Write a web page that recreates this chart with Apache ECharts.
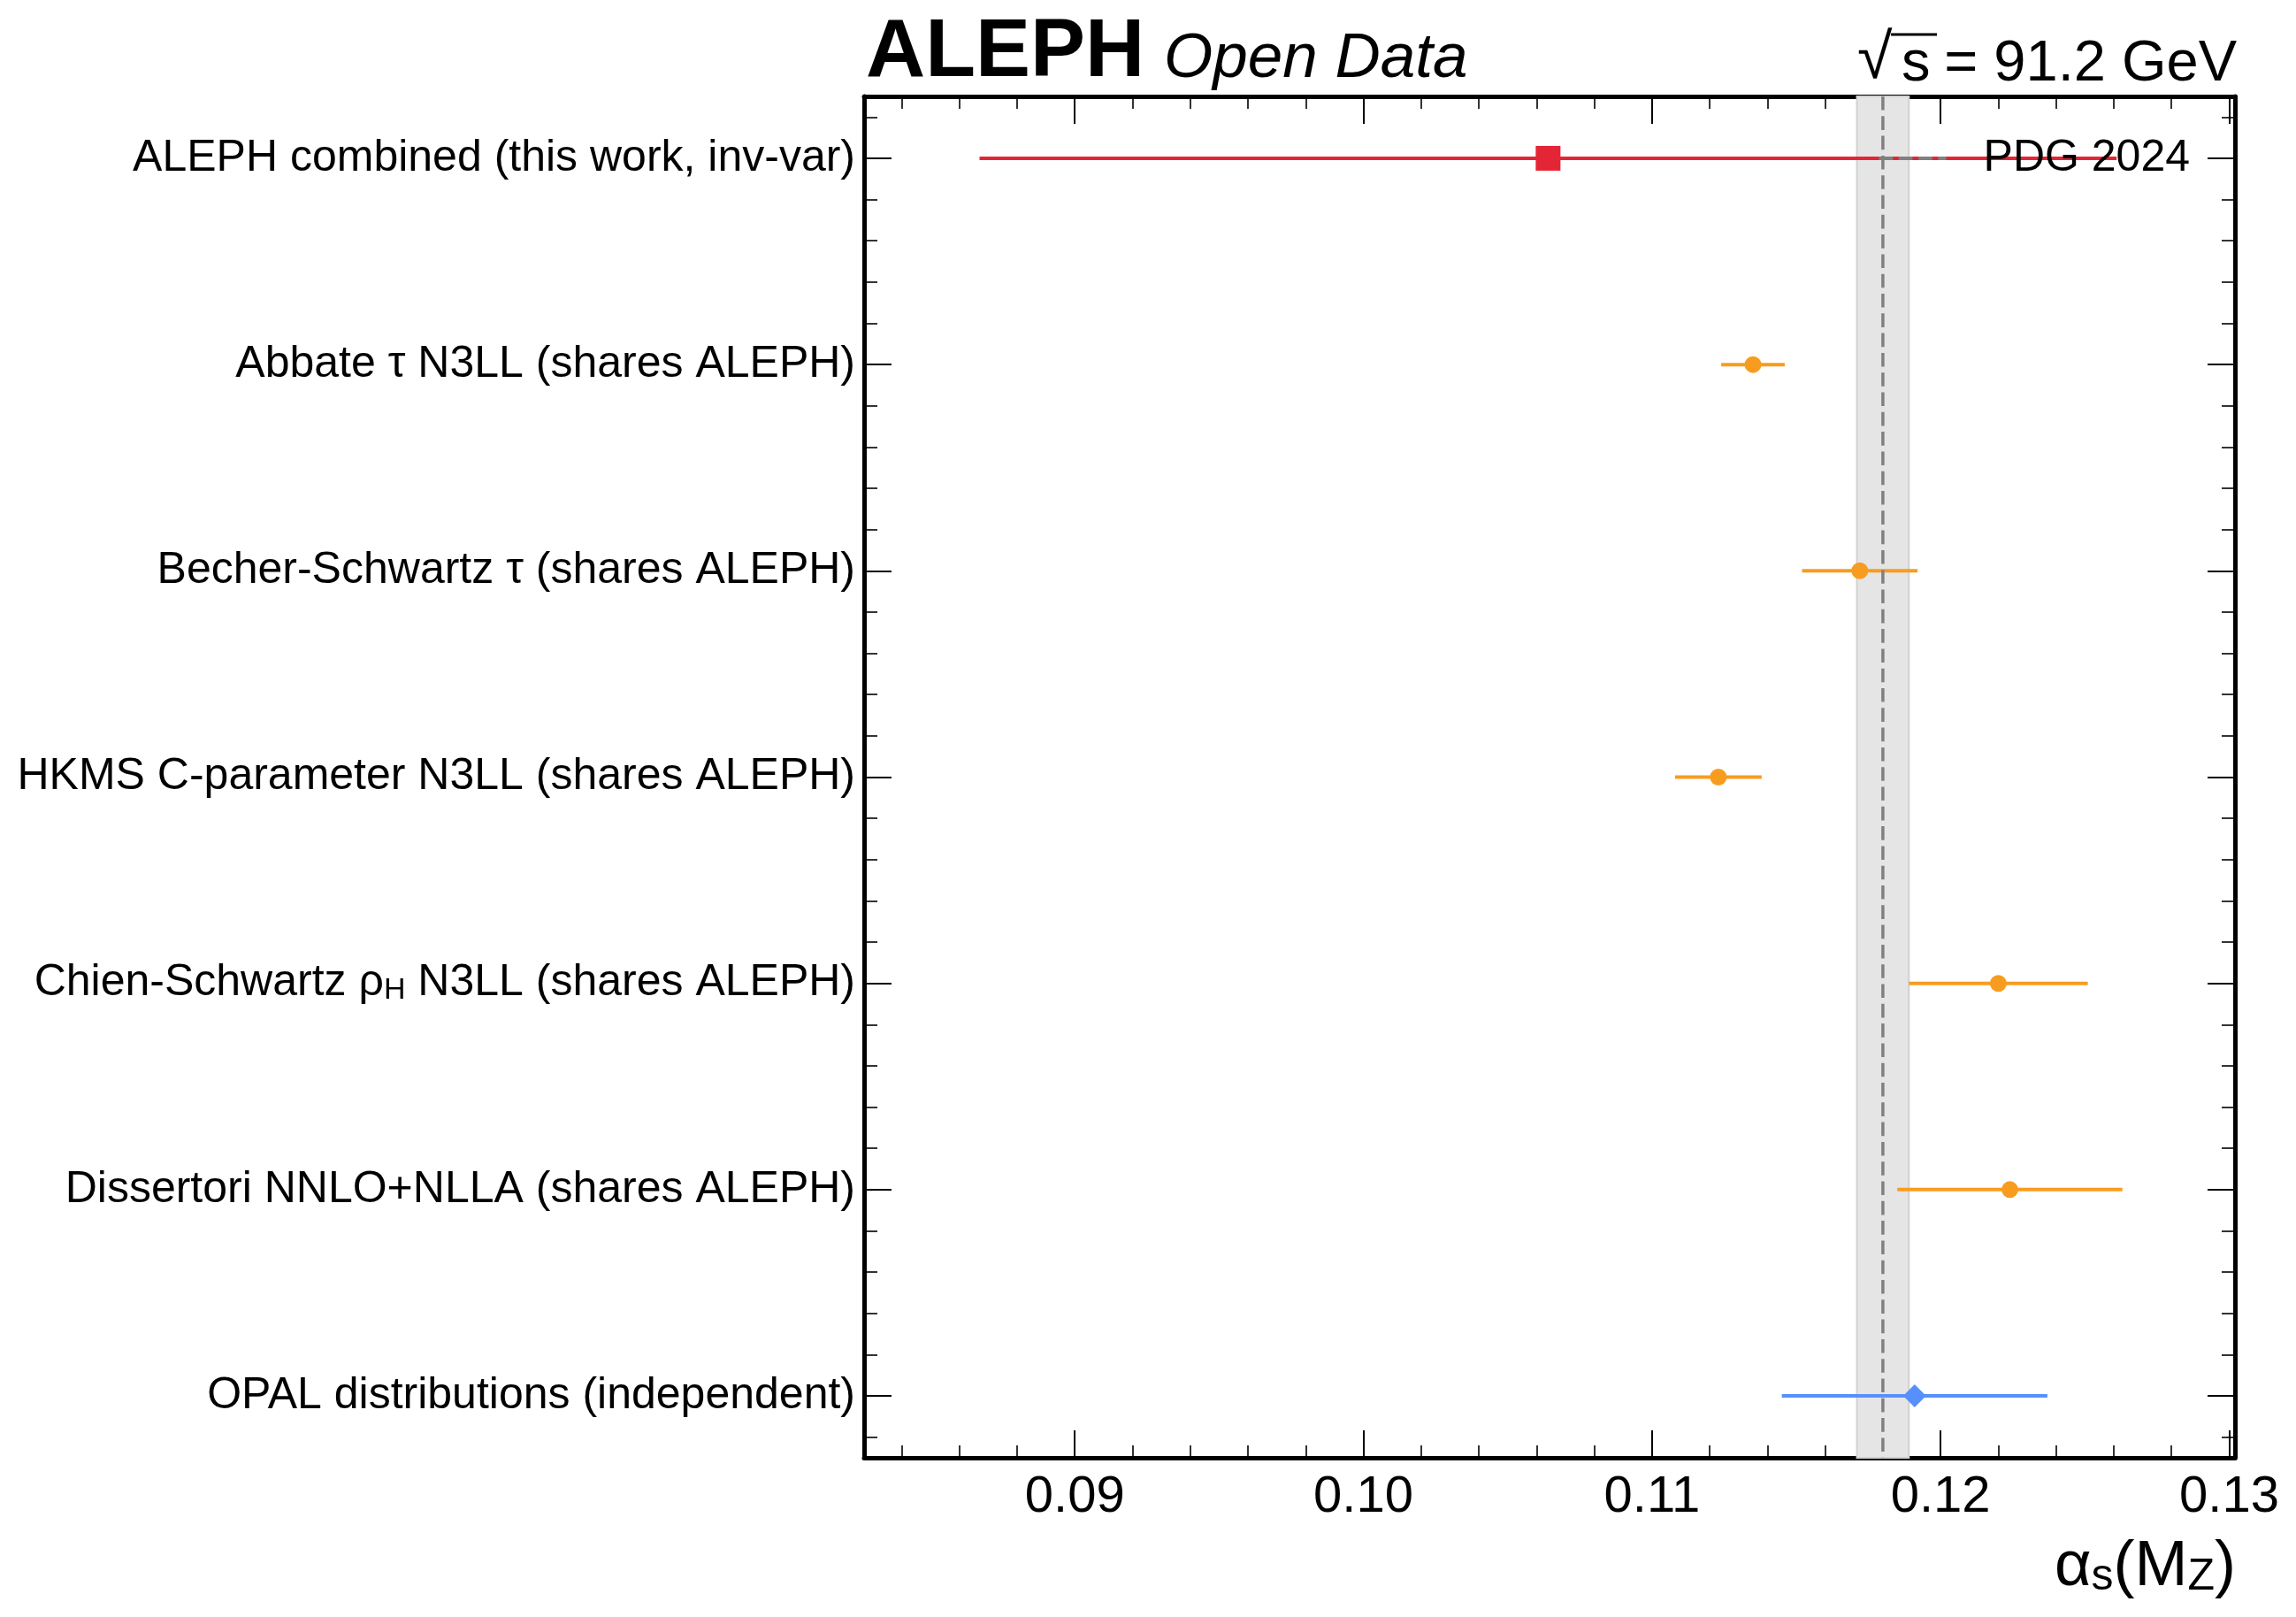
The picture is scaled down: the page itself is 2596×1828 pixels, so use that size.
<!DOCTYPE html>
<html>
<head>
<meta charset="utf-8">
<script src="https://cdn.jsdelivr.net/npm/echarts@6.0.0/dist/echarts.min.js"></script>
<style>
html,body{margin:0;padding:0;background:#fff;}
#chart{width:2596px;height:1828px;}
</style>
</head>
<body>
<div id="chart"></div>
<script>
// ---- data ----
const categories = [
  'ALEPH combined (this work, inv-var)',
  'Abbate τ N3LL (shares ALEPH)',
  'Becher-Schwartz τ (shares ALEPH)',
  'HKMS C-parameter N3LL (shares ALEPH)',
  'Chien-Schwartz ρ_H N3LL (shares ALEPH)',
  'Dissertori NNLO+NLLA (shares ALEPH)',
  'OPAL distributions (independent)'
];
const alphaValues = [0.1064, 0.1135, 0.1172, 0.1123, 0.1220, 0.1224, 0.1191];
const alphaErrors = [0.0197, 0.0011, 0.0020, 0.0015, 0.0031, 0.0039, 0.0046];
const groups = ['aleph', 'shares', 'shares', 'shares', 'shares', 'shares', 'independent'];
const pdgCentral = 0.1180;
const pdgError = 0.0009;
const xMajorTicks = [0.09, 0.10, 0.11, 0.12, 0.13];
const xMinorStep = 0.002;
const yMinorStep = 0.2;

// ---- styling ----
const FONT = '"Liberation Sans", "Helvetica", Arial, sans-serif';
const groupStyle = {
  aleph: {color: '#e42536', symbol: 'rect', size: 28},
  shares: {color: '#f89c20', symbol: 'circle', size: 19},
  independent: {color: '#5790fc', symbol: 'diamond', size: 26}
};
const xMin = 0.0827, xMax = 0.1302;
const yMin = -0.3, yMax = 6.3;

const xMinorTicks = [];
for (let k = Math.ceil(xMin / xMinorStep - 1e-9); k * xMinorStep <= xMax + 1e-12; k++) xMinorTicks.push(+(k * xMinorStep).toFixed(4));
const yMajorTicks = categories.map((c, i) => i);
const yMinorTicks = [];
for (let k = Math.ceil(yMin / yMinorStep - 1e-9); k * yMinorStep <= yMax + 1e-9; k++) yMinorTicks.push(+(k * yMinorStep).toFixed(2));

const frameLine = {show: true, onZero: false, lineStyle: {color: '#000', width: 5}};
function xAxisDef(pos, ticks, len, width, labels, line) {
  return {
    type: 'value', position: pos, min: xMin, max: xMax, gridIndex: 0,
    axisLine: line ? frameLine : {show: false, onZero: false},
    splitLine: {show: false},
    axisTick: {show: true, inside: true, length: len, customValues: ticks, lineStyle: {color: '#000', width: width}},
    axisLabel: labels ? {
      show: true, customValues: xMajorTicks, margin: 16,
      formatter: v => v.toFixed(2), fontSize: 58, lineHeight: 58, fontFamily: FONT, color: '#000'
    } : {show: false}
  };
}
function labelFmt(v) {
  const s = categories[Math.round(v)] || '';
  return '{n|' + s.replace(/_(\w)/g, '}{sub|$1}{n|') + '}';
}
function yAxisDef(pos, ticks, len, width, labels, line) {
  return {
    type: 'value', position: pos, min: yMin, max: yMax, inverse: true, gridIndex: 0,
    axisLine: line ? frameLine : {show: false, onZero: false},
    splitLine: {show: false},
    axisTick: {show: true, inside: true, length: len, customValues: ticks, lineStyle: {color: '#000', width: width}},
    axisLabel: labels ? {
      show: true, customValues: yMajorTicks, margin: 10, formatter: labelFmt,
      fontFamily: FONT, color: '#000', fontSize: 50,
      rich: {
        n: {fontSize: 50, lineHeight: 50, fontFamily: FONT, color: '#000', verticalAlign: 'bottom'},
        sub: {fontSize: 34, lineHeight: 26, fontFamily: FONT, color: '#000', verticalAlign: 'bottom'}
      }
    } : {show: false}
  };
}

const chart = echarts.init(document.getElementById('chart'), null, {renderer: 'canvas'});

const scatterData = alphaValues.map((v, i) => {
  const g = groupStyle[groups[i]];
  return {value: [v, i], symbol: g.symbol, symbolSize: g.size, itemStyle: {color: g.color, opacity: 1}};
});
const errData = alphaValues.map((v, i) => [v - alphaErrors[i], v + alphaErrors[i], i]);

const option = {
  backgroundColor: '#fff',
  animation: false,
  grid: {left: 977, right: 69, top: 109, bottom: 180, containLabel: false},
  xAxis: [
    xAxisDef('bottom', xMajorTicks, 31, 2, true, true),
    xAxisDef('bottom', xMinorTicks, 14, 1.6, false, false),
    xAxisDef('top', xMajorTicks, 31, 2, false, true),
    xAxisDef('top', xMinorTicks, 14, 1.6, false, false)
  ],
  yAxis: [
    yAxisDef('left', yMajorTicks, 31, 2, true, true),
    yAxisDef('left', yMinorTicks, 15, 1.6, false, false),
    yAxisDef('right', yMajorTicks, 31, 2, false, true),
    yAxisDef('right', yMinorTicks, 15, 1.6, false, false)
  ],
  legend: {
    show: true, selectedMode: false, orient: 'horizontal', align: 'left',
    right: 120, top: 154, padding: 0, itemWidth: 76, itemHeight: 4,
    textStyle: {fontSize: 50, lineHeight: 50, fontFamily: FONT, color: '#000', padding: [0, 0, 0, 37]},
    data: [{
      name: 'PDG 2024',
      icon: 'path://M0,0h15.6v4h-15.6z M22.3,0h15.6v4h-15.6z M44.6,0h15.6v4h-15.6z M66.9,0h9.1v4h-9.1z',
      itemStyle: {color: '#808080'}
    }]
  },
  series: [
    {
      type: 'custom', name: 'PDG band', z: 1, silent: true,
      xAxisIndex: 0, yAxisIndex: 0,
      data: [[pdgCentral - pdgError, pdgCentral + pdgError]],
      encode: {x: [0, 1]},
      renderItem: function (params, api) {
        const cs = params.coordSys;
        const x1 = api.coord([api.value(0), 0])[0];
        const x2 = api.coord([api.value(1), 0])[0];
        return {type: 'rect', shape: {x: x1, y: cs.y, width: x2 - x1, height: cs.height},
          style: {fill: '#e5e5e5', stroke: '#d2d2d2', lineWidth: 2}};
      }
    },
    {
      type: 'custom', name: 'errorbars', z: 3, silent: true,
      xAxisIndex: 0, yAxisIndex: 0,
      data: errData,
      encode: {x: [0, 1], y: 2},
      renderItem: function (params, api) {
        const p1 = api.coord([api.value(0), api.value(2)]);
        const p2 = api.coord([api.value(1), api.value(2)]);
        const col = groupStyle[groups[params.dataIndex]].color;
        return {type: 'line', shape: {x1: p1[0], y1: p1[1], x2: p2[0], y2: p2[1]},
          style: {stroke: col, lineWidth: 4}};
      }
    },
    {
      type: 'custom', name: 'PDG 2024', z: 4, silent: true,
      xAxisIndex: 0, yAxisIndex: 0,
      itemStyle: {color: '#808080'},
      data: [[pdgCentral]],
      encode: {x: 0},
      renderItem: function (params, api) {
        const cs = params.coordSys;
        const x = api.coord([api.value(0), 0])[0];
        return {type: 'line', shape: {x1: x, y1: cs.y, x2: x, y2: cs.y + cs.height},
          style: {stroke: '#808080', lineWidth: 3.5, lineDash: [15.6, 6.7]}};
      }
    },
    {
      type: 'scatter', name: 'points', z: 10, silent: true,
      xAxisIndex: 0, yAxisIndex: 0,
      itemStyle: {opacity: 1},
      data: scatterData
    }
  ],
  graphic: [
    {type: 'text', x: 979, y: 60, style: {text: 'ALEPH', font: 'bold 93px ' + FONT, fill: '#000', align: 'left', verticalAlign: 'middle'}},
    {type: 'text', x: 1316, y: 67, style: {text: 'Open Data', font: 'italic 71px ' + FONT, fill: '#000', align: 'left', verticalAlign: 'middle'}},
    {type: 'text', x: 2529, y: 73, style: {text: '= 91.2 GeV', font: '65px ' + FONT, fill: '#000', align: 'right', verticalAlign: 'middle'}},
    {type: 'text', x: 2150, y: 73, style: {text: 's', font: '65px ' + FONT, fill: '#000', align: 'left', verticalAlign: 'middle'}},
    {type: 'text', x: 2100, y: 68, style: {text: '√', font: '72px ' + FONT, fill: '#000', align: 'left', verticalAlign: 'middle'}},
    {type: 'line', shape: {x1: 2138, y1: 39, x2: 2190, y2: 39}, style: {stroke: '#000', lineWidth: 3}},
    {type: 'text', x: 2528, y: 1808, style: {
      text: '{m|α}{s|s}{m|(M}{s|Z}{m|)}', align: 'right', verticalAlign: 'bottom',
      rich: {
        m: {fontSize: 72, lineHeight: 76, fontFamily: FONT, fill: '#000', verticalAlign: 'bottom'},
        s: {fontSize: 50, lineHeight: 42, fontFamily: FONT, fill: '#000', verticalAlign: 'bottom'}
      }
    }}
  ]
};
chart.setOption(option);
</script>
</body>
</html>
